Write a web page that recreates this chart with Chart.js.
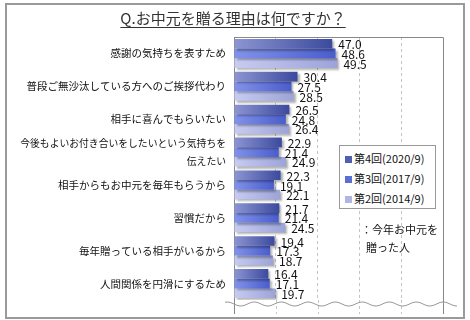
<!DOCTYPE html>
<html>
<head>
<meta charset="utf-8">
<script src="https://cdn.jsdelivr.net/npm/chart.js@4/dist/chart.umd.min.js"></script>
<style>
  html, body { margin: 0; padding: 0; background: #fff; }
  body { width: 470px; height: 320px; position: relative; overflow: hidden; font-family: "Noto Sans CJK JP", sans-serif; color: #222; }
  #frame { position: absolute; left: 5px; top: 3px; width: 460px; height: 316px; box-sizing: border-box; border: 2px solid #9a9a9a; pointer-events: none; }
  #title { position: absolute; left: 0; width: 466px; top: 7px; text-align: center; font-size: 15px; color: #333; }
  #title span { text-decoration: underline; text-underline-offset: 3px; }
  #wrap { position: absolute; left: 0; top: 0; width: 470px; height: 320px; }
  #legend { position: absolute; left: 339px; top: 145px; width: 97px; height: 64px; box-sizing: border-box; border: 1px solid #999; background: #fff; font-size: 11px; padding: 4px 0 0 5px; color: #111; }
  #legend div { height: 20px; line-height: 16px; white-space: nowrap; }
  #legend i { display: inline-block; width: 7px; height: 7px; margin-right: 2px; vertical-align: 0px; }
  #note { position: absolute; left: 361px; top: 220px; font-size: 11px; line-height: 18px; color: #111; }
</style>
</head>
<body>
<div id="wrap"><canvas id="chart" width="470" height="320"></canvas></div>
<div id="title"><span>Q.お中元を贈る理由は何ですか？</span></div>
<div id="legend"></div>
<div id="note">：今年お中元を<br>&nbsp;&nbsp;贈った人</div>
<div id="frame"></div>
<script>
// 理由（カテゴリ）
const categories = [
    '感謝の気持ちを表すため',
    '普段ご無沙汰している方へのご挨拶代わり',
    '相手に喜んでもらいたい',
    ['今後もよいお付き合いをしたいという気持ちを', '伝えたい'],
    '相手からもお中元を毎年もらうから',
    '習慣だから',
    '毎年贈っている相手がいるから',
    '人間関係を円滑にするため'
];
const seriesNames = ['第4回(2020/9)', '第3回(2017/9)', '第2回(2014/9)'];
const round4 = [47.0, 30.4, 26.5, 22.9, 22.3, 21.7, 19.4, 16.4];
const round3 = [48.6, 27.5, 24.8, 21.4, 19.1, 21.4, 17.3, 17.1];
const round2 = [49.5, 28.5, 26.4, 24.9, 22.1, 24.5, 18.7, 19.7];
const xTicks = [0, 20, 40, 60, 80, 100];

// グラデーション（左が明るく右が濃い）
const gradStops = [
    ['#8d95d2', '#3b4a9e', '#5060b0'],
    ['#8293ea', '#4a5dcc', '#5a6ed8'],
    ['#c8ccf2', '#9ca4d8', '#b0b6e4']
];

function barGradient(idx) {
    return function (c) {
        const chart = c.chart;
        const area = chart.chartArea;
        if (!area || c.raw === undefined) return gradStops[idx][2];
        const x1 = chart.scales.x.getPixelForValue(c.raw);
        const g = chart.ctx.createLinearGradient(area.left, 0, x1, 0);
        g.addColorStop(0, gradStops[idx][0]);
        g.addColorStop(1, gradStops[idx][1]);
        return g;
    };
}

// 影
const shadowPlugin = {
    id: 'shadow',
    beforeDatasetsDraw(chart) {
        const ctx = chart.ctx;
        ctx.save();
        ctx.shadowColor = 'rgba(0,0,0,0.3)';
        ctx.shadowOffsetX = 2;
        ctx.shadowOffsetY = 2;
        ctx.shadowBlur = 2;
    },
    afterDatasetsDraw(chart) {
        chart.ctx.restore();
    }
};

// 数値ラベル
const valueLabels = {
    id: 'valueLabels',
    afterDatasetsDraw(chart) {
        const ctx = chart.ctx;
        ctx.save();
        ctx.font = '12px "Noto Sans CJK JP"';
        ctx.fillStyle = '#111';
        ctx.textBaseline = 'middle';
        chart.data.datasets.forEach((ds, i) => {
            chart.getDatasetMeta(i).data.forEach((bar, j) => {
                ctx.fillText(ds.data[j].toFixed(1), bar.x + 6, bar.y + 1);
            });
        });
        ctx.restore();
    }
};

// カテゴリラベル（右揃え）
const categoryLabels = {
    id: 'categoryLabels',
    afterDraw(chart) {
        const ctx = chart.ctx;
        const y = chart.scales.y;
        const xr = chart.chartArea.left - 8;
        ctx.save();
        ctx.fillStyle = '#111';
        ctx.textAlign = 'left';
        ctx.textBaseline = 'middle';
        categories.forEach((lab, i) => {
            const lines = Array.isArray(lab) ? lab : [lab];
            ctx.font = (lines.length > 1 ? 9.8 : 10.5) + 'px "Noto Sans CJK JP"';
            const cy = y.getPixelForTick(i);
            lines.forEach((ln, k) => {
                const w = ctx.measureText(ln).width;
                ctx.fillText(ln, xr - w, cy + (k - (lines.length - 1) / 2) * 18);
            });
        });
        ctx.restore();
    }
};

// 枠線・省略線
const framePlugin = {
    id: 'frameLines',
    afterDraw(chart) {
        const ctx = chart.ctx;
        const a = chart.chartArea;
        const ext = a.bottom + 14;
        ctx.save();
        ctx.strokeStyle = '#c4c4c4';
        ctx.lineWidth = 1;
        ctx.setLineDash([3, 3]);
        xTicks.slice(1, -1).forEach(v => {
            const x = Math.round(chart.scales.x.getPixelForValue(v)) + 0.5;
            ctx.beginPath();
            ctx.moveTo(x, a.bottom);
            ctx.lineTo(x, ext);
            ctx.stroke();
        });
        ctx.setLineDash([]);
        ctx.strokeStyle = '#888';
        const l = Math.round(a.left) + 0.5;
        const r = Math.round(a.right) + 0.5;
        const t = Math.round(a.top) + 0.5;
        ctx.beginPath();
        ctx.moveTo(l, t); ctx.lineTo(r, t); ctx.lineTo(r, ext);
        ctx.moveTo(l, a.bottom); ctx.lineTo(l, ext);
        ctx.stroke();
        // 波線
        ctx.strokeStyle = '#999';
        ctx.beginPath();
        const y0 = a.bottom + 4;
        for (let x = a.left - 9; x <= a.right + 14; x++) {
            const y = y0 + 2 * Math.sin((x - a.left) / 27 * 2 * Math.PI);
            if (x === a.left - 9) ctx.moveTo(x, y); else ctx.lineTo(x, y);
        }
        ctx.stroke();
        ctx.restore();
    }
};

const chart = new Chart(document.getElementById('chart'), {
    type: 'bar',
    data: {
        labels: categories,
        datasets: [round4, round3, round2].map((d, i) => ({
            label: seriesNames[i],
            data: d,
            backgroundColor: barGradient(i),
            borderWidth: 0,
            categoryPercentage: 0.88,
            barPercentage: 1.0
        }))
    },
    options: {
        indexAxis: 'y',
        responsive: false,
        animation: false,
        layout: { padding: { top: 37, bottom: 20, right: 27, left: 0 } },
        plugins: { legend: { display: false }, tooltip: { enabled: false } },
        scales: {
            x: {
                min: 0, max: 100,
                afterBuildTicks: s => { s.ticks = xTicks.map(v => ({ value: v })); },
                ticks: { display: false },
                border: { display: false, dash: [3, 3] },
                grid: {
                    drawTicks: false,
                    color: c => (c.tick && (c.tick.value === 0 || c.tick.value === 100)) ? 'rgba(0,0,0,0)' : '#c4c4c4'
                }
            },
            y: {
                afterFit: s => { s.width = 234; },
                grid: { display: false, drawTicks: false },
                border: { display: true, color: '#888' },
                ticks: { display: false, autoSkip: false }
            }
        }
    },
    plugins: [shadowPlugin, valueLabels, categoryLabels, framePlugin]
});

// HTML凡例
document.getElementById('legend').innerHTML = seriesNames.map((n, i) =>
    `<div><i style="background:${gradStops[i][2]}"></i>${n}</div>`).join('');
</script>
</body>
</html>
